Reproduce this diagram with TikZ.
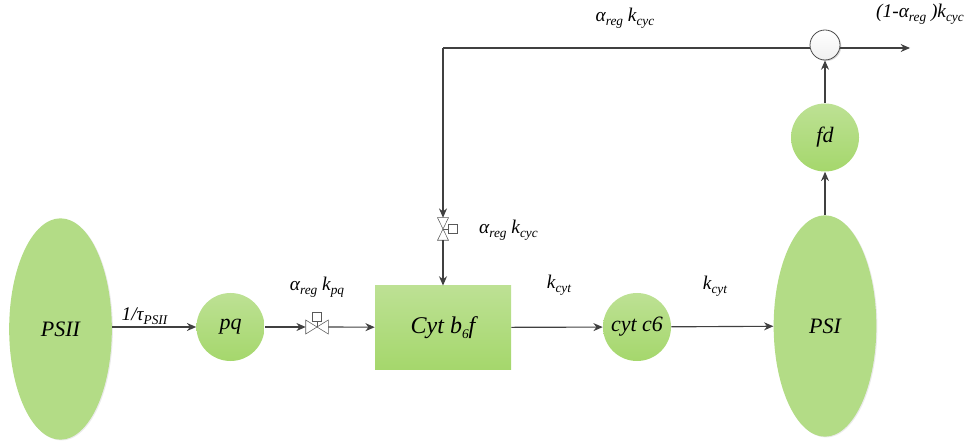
\documentclass[tikz,border=0pt]{standalone}
\usepackage{fontspec}
\setmainfont{Liberation Serif}
\usetikzlibrary{arrows.meta,shadows,shapes.geometric}
\newcommand{\lowtxt}[1]{\raisebox{-0.2em}{\fontsize{10}{11}\selectfont #1}}
\definecolor{greenA}{HTML}{BDE194}
\definecolor{greenB}{HTML}{A5D76C}
\definecolor{greenC}{HTML}{B3DC86}
\tikzset{
	greenfill/.style={top color=greenA, bottom color=greenB, draw=none},
	softedge/.style={general shadow={shadow xshift=0.8pt, shadow yshift=-0.6pt, fill=black!8}},
	organ/.style={ellipse, minimum width=77pt, minimum height=166pt, inner sep=0pt, fill=greenC, draw=none, softedge, font=\fontsize{16.5}{18}\selectfont\itshape},
	carrier/.style={circle, minimum size=51pt, inner sep=0pt, greenfill, font=\fontsize{16.5}{18}\selectfont\itshape},
	valvept/.style={inner sep=0pt, minimum width=16.5pt, minimum height=16.5pt},
	valvebit/.style={draw=black!65, fill=white, line width=0.4pt},
	flow/.style={draw=black!75, line width=0.85pt, -{Stealth[length=7pt,width=6pt]}},
	plainflow/.style={draw=black!75, line width=0.85pt},
	rate/.style={inner sep=0pt, font=\fontsize{14.5}{16}\selectfont\itshape},
}
\begin{document}
\begin{tikzpicture}[x=0.75pt, y=-0.75pt]
	\useasboundingbox (0,0) rectangle (966,441);
	\node (PSII) [organ] 	at (60.5,329) 	{PSII};
	\node (pq) 	[carrier] 	at (230.5,327) 	{pq};
	\node (vpq) [valvept] 	at (317,327) 	{};
	\node (cyt) [greenfill, minimum width=102pt, minimum height=62.5pt, inner sep=0pt, font=\fontsize{18}{20}\selectfont\itshape] at (443,327.5) {Cyt b\lowtxt{6}f};
	\node (c6) 	[carrier] 	at (637,327) 	{cyt c6};
	\node (PSI) [organ] 	at (825,326) 	{PSI};
	\node (fd) 	[carrier] 	at (825,137.5) 	{fd};
	\node (mix) [circle, minimum size=22.5pt, inner sep=0pt, draw=black!70, line width=0.6pt, top color=white, bottom color=black!6, general shadow={shadow xshift=1pt, shadow yshift=-0.8pt, fill=black!15}] at (825,45) {};
	\node (vcyc) [valvept] 	at (443,229) 	{};
	\coordinate (corner) 	at (443,48);
	\coordinate (out) 		at (910,48);
	% valves
	\draw[valvebit] (vpq.west) ++(0,-7) -- ++(0,14) -- (vpq.center) -- cycle;
	\draw[valvebit] (vpq.east) ++(0,-7) -- ++(0,14) -- (vpq.center) -- cycle;
	\draw[valvebit] (vpq.center) -- ++(0,-6) ++(-4.5,-9) rectangle ++(9,9);
	\draw[valvebit] (vcyc.north) ++(-5.5,0) -- ++(11,0) -- (vcyc.center) -- cycle;
	\draw[valvebit] (vcyc.south) ++(-5.5,0) -- ++(11,0) -- (vcyc.center) -- cycle;
	\draw[valvebit] (vcyc.center) -- ++(5.5,0) ++(0,-4.5) rectangle ++(9,9);
	% connectors
	\draw[flow] 		(PSII.east |- pq) 	to (pq);
	\draw[flow] 		(pq) 				to (vpq.west);
	\draw[flow] 		(vpq.east) 			to (cyt);
	\draw[flow] 		(cyt) 				to (c6);
	\draw[flow] 		(c6) 				to (PSI);
	\draw[flow] 		(PSI) 				to (fd);
	\draw[flow] 		(fd) 				to (mix);
	\draw[flow] 		(mix.east |- out) 	to (out);
	\draw[plainflow] 	(mix.west |- corner) to (corner);
	\draw[flow] 		(corner) 			to (vcyc.north);
	\draw[flow] 		(vcyc.south) 		to (cyt);
	% rates
	\node (r1) [rate] at (144.5,316) 	{1/τ\lowtxt{PSII}};
	\node (r2) [rate] at (317,287) 		{α\lowtxt{reg} k\lowtxt{pq}};
	\node (r3) [rate] at (508.5,230) 	{α\lowtxt{reg} k\lowtxt{cyc}};
	\node (r4) [rate] at (625,18) 		{α\lowtxt{reg} k\lowtxt{cyc}};
	\node (r5) [rate] at (920,14) 		{(1-α\lowtxt{reg} )k\lowtxt{cyc}};
	\node (r6) [rate] at (559,285) 		{k\lowtxt{cyt}};
	\node (r7) [rate] at (715,286) 		{k\lowtxt{cyt}};
\end{tikzpicture}
\end{document}
